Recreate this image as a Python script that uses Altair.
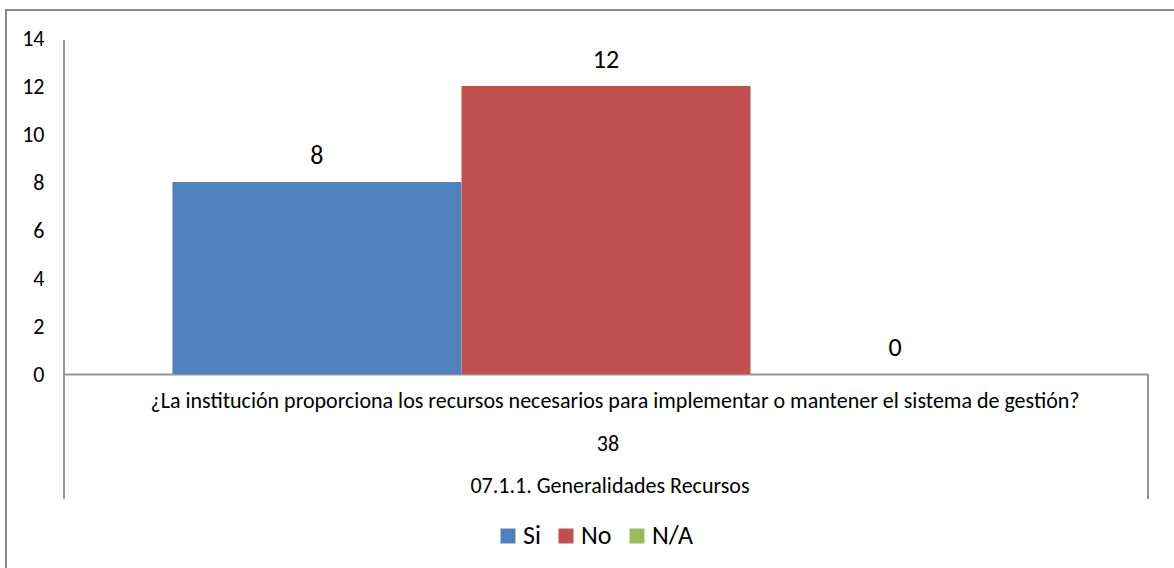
import altair as alt
import pandas as pd

# ---- data ----
series = ["Si", "No", "N/A"]
values = [8, 12, 0]
colors = ["#4F81BD", "#C0504D", "#9BBB59"]
question = "¿La institución proporciona los recursos necesarios para implementar o mantener el sistema de gestión?"
level2 = "38"
level3 = "07.1.1. Generalidades Recursos"
y_ticks = [0, 2, 4, 6, 8, 10, 12, 14]

FONT = "Carlito, Calibri, Lato, sans-serif"
W, H = 1084, 336
GRAY = "#959595"

df = pd.DataFrame({"cat": [question] * 3, "serie": series, "valor": values,
                   "l2": [level2] * 3, "l3": [level3] * 3})
cat_df = pd.DataFrame({"cat": [question], "l2": [level2], "l3": [level3]})

x_enc = alt.X("cat:N", title=None,
              scale=alt.Scale(paddingInner=0, paddingOuter=0.125),
              axis=alt.Axis(labels=False, ticks=False, domain=True,
                            domainColor=GRAY, domainWidth=2, grid=False))
y_enc = alt.Y("valor:Q", title=None,
              scale=alt.Scale(domain=[0, 14], nice=False),
              axis=alt.Axis(values=y_ticks, ticks=False, domain=False, grid=False,
                            labelFontSize=22, labelFont=FONT, labelColor="#000000",
                            labelPadding=20))
xo = alt.XOffset("serie:N", sort=series,
                 scale=alt.Scale(domain=series, paddingInner=0, paddingOuter=0))
color = alt.Color("serie:N", sort=series,
                  scale=alt.Scale(domain=series, range=colors),
                  legend=alt.Legend(title=None, orient="none", direction="horizontal",
                                    legendX=431, legendY=485,
                                    symbolType="square", symbolSize=225,
                                    symbolStrokeWidth=0,
                                    labelFont=FONT, labelFontSize=26,
                                    labelColor="#000000", labelOffset=2,
                                    columnPadding=12))

bars = alt.Chart(df).mark_bar(size=289).encode(x=x_enc, xOffset=xo, y=y_enc, color=color)

labels = alt.Chart(df).mark_text(fontSize=26, font=FONT, color="#000000",
                                 baseline="alphabetic", dy=-18).encode(
    x="cat:N", xOffset=xo, y="valor:Q", text="valor:Q")

deco = alt.Data(values=[{"a": 1}])
border = alt.Chart(deco).mark_rect(fill="transparent", stroke="#8a8a8a",
                                   strokeWidth=2).encode(
    x=alt.value(-58), x2=alt.value(1300), y=alt.value(-28), y2=alt.value(800))
left_rule = alt.Chart(deco).mark_rule(color=GRAY, strokeWidth=2).encode(
    x=alt.value(0), y=alt.value(2), y2=alt.value(461))
right_rule = alt.Chart(deco).mark_rule(color=GRAY, strokeWidth=2).encode(
    x=alt.value(W), y=alt.value(H), y2=alt.value(461))

cat1 = alt.Chart(cat_df).mark_text(fontSize=22, font=FONT, color="#000000",
                                   baseline="alphabetic", dx=9).encode(
    x="cat:N", y=alt.value(370), text="cat:N")
cat2 = alt.Chart(cat_df).mark_text(fontSize=22, font=FONT, color="#000000",
                                   baseline="alphabetic", dx=2).encode(
    x="cat:N", y=alt.value(413), text="l2:N")
cat3 = alt.Chart(cat_df).mark_text(fontSize=22, font=FONT, color="#000000",
                                   baseline="alphabetic", dx=4).encode(
    x="cat:N", y=alt.value(455), text="l3:N")

chart = alt.layer(border, bars, labels, left_rule, right_rule, cat1, cat2, cat3).properties(
    width=W, height=H,
    autosize=alt.AutoSizeParams(type="none"),
    padding={"left": 64, "top": 38, "right": 26, "bottom": 194},
    background="white",
).configure_view(stroke=None)

chart.save("out.html", embed_options={"renderer": "svg", "actions": False})
